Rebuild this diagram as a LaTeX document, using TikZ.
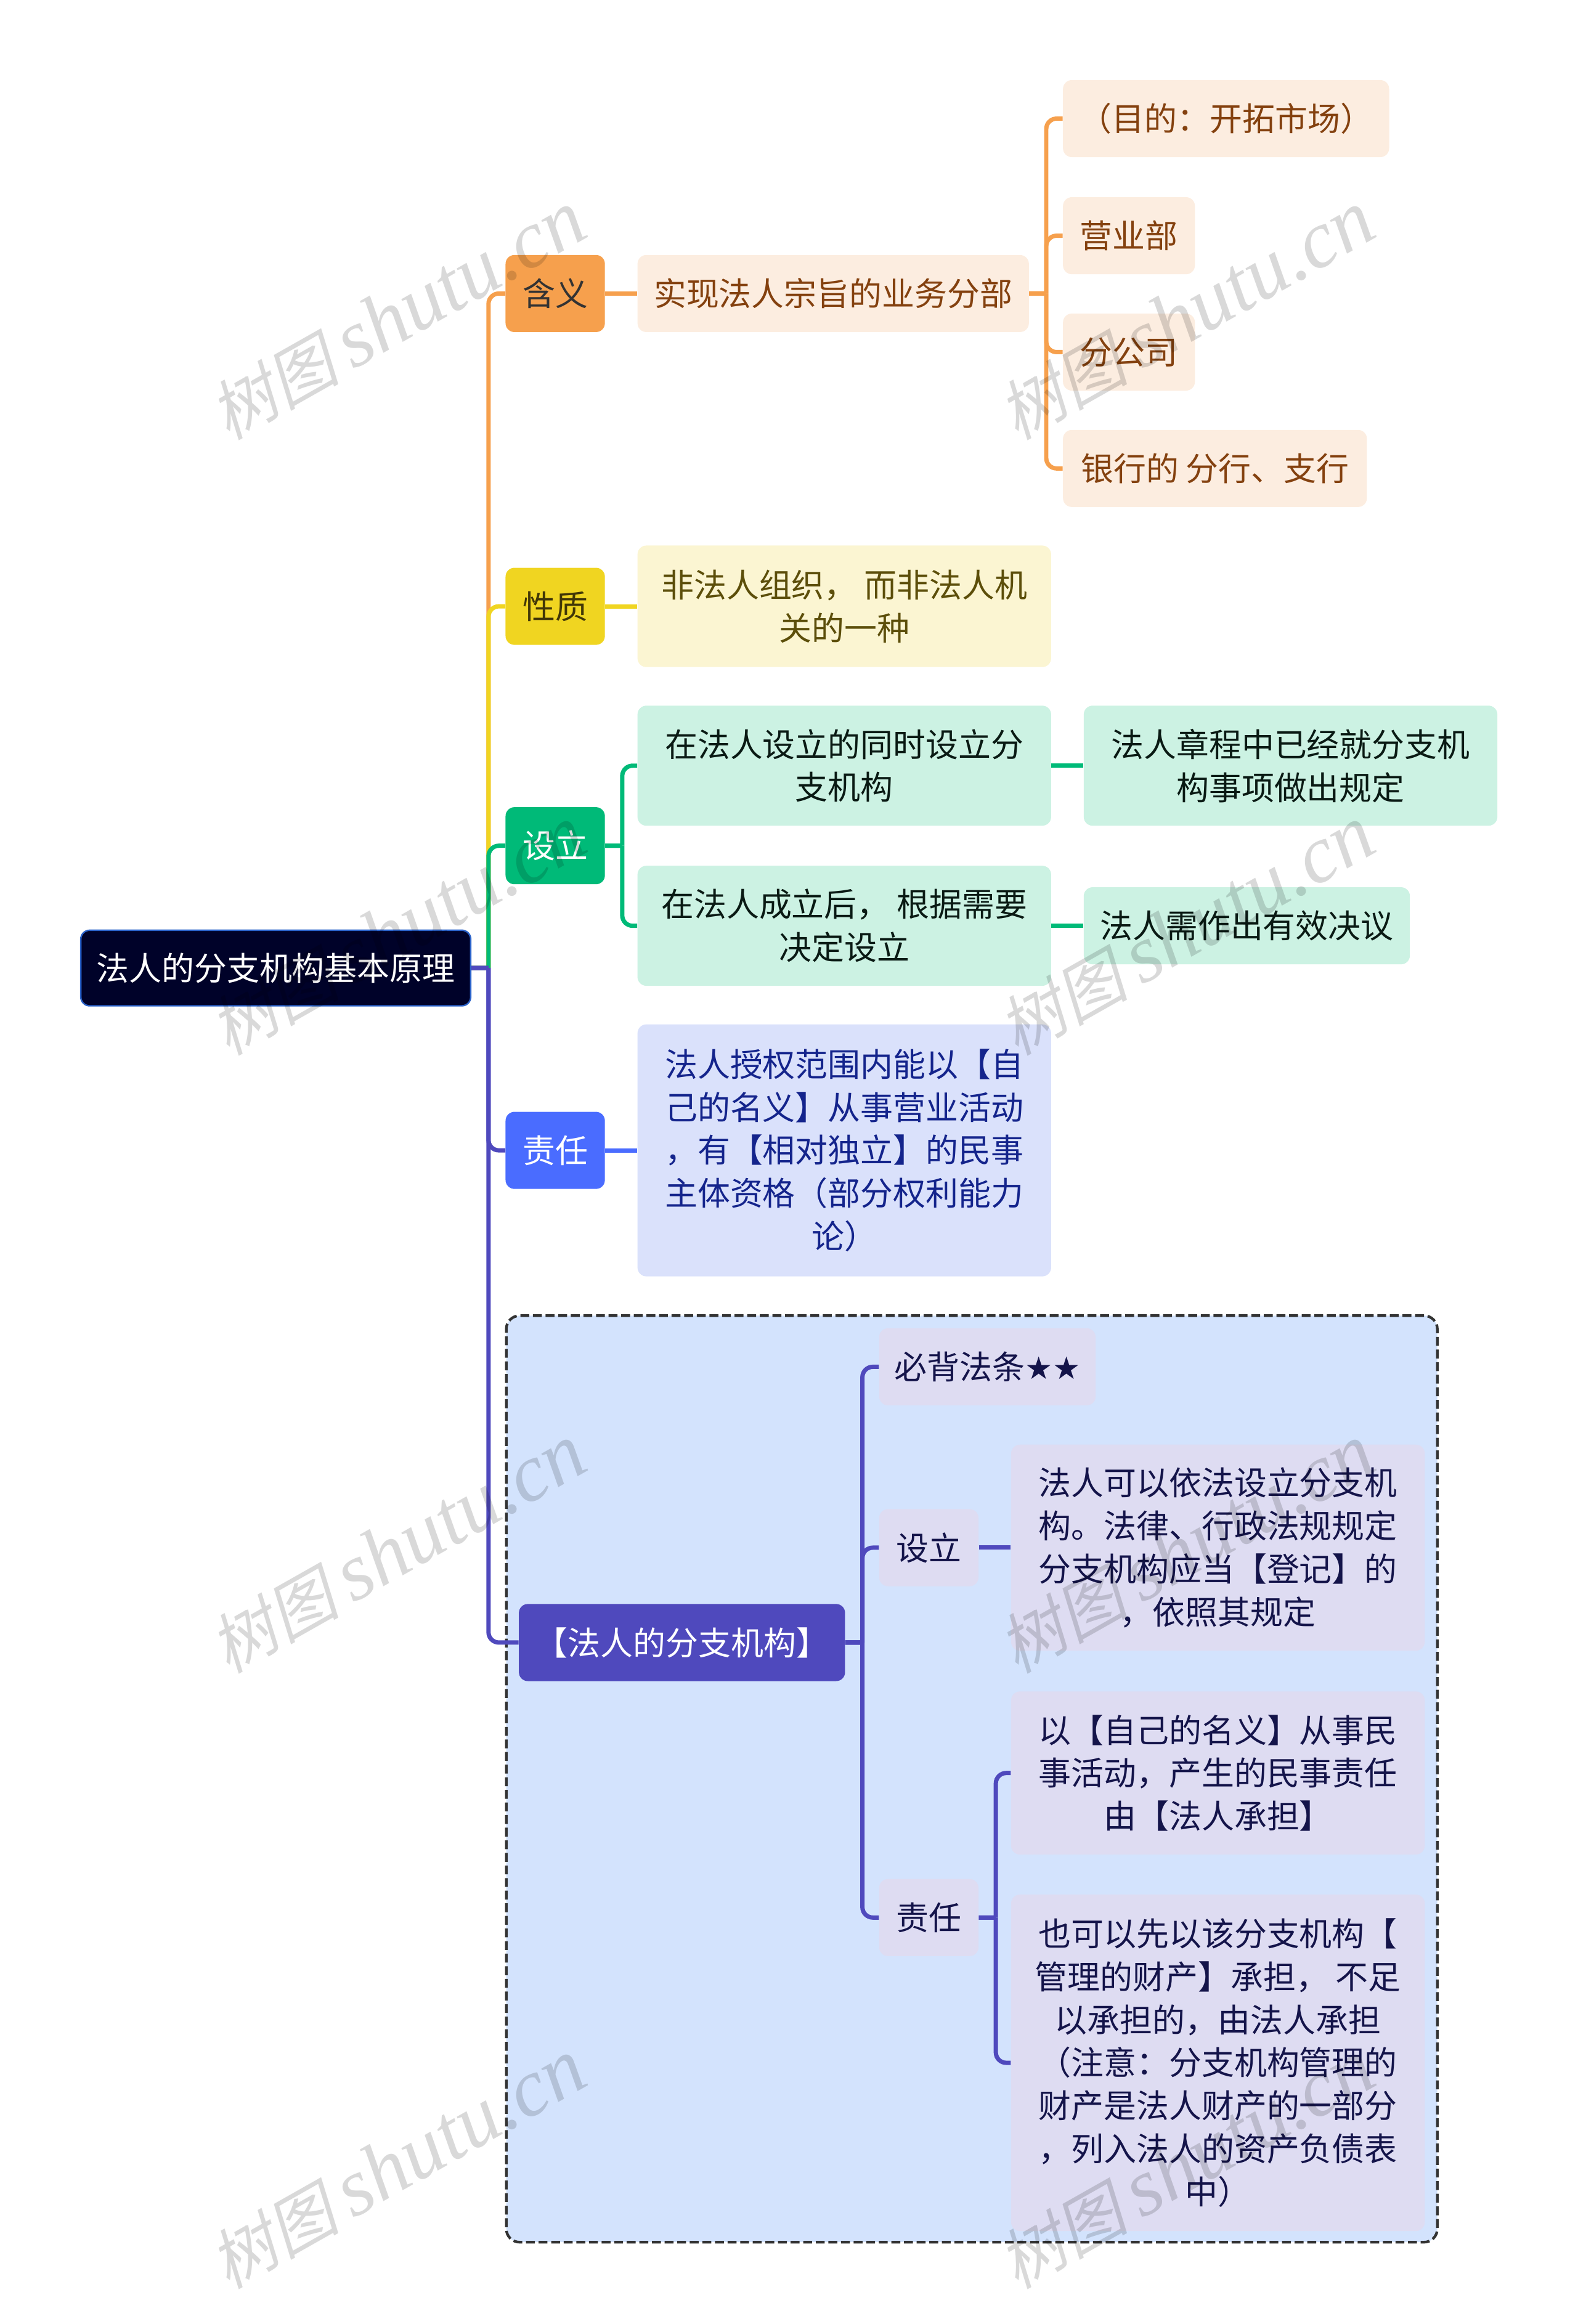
\documentclass[tikz,border=0pt]{standalone}
\usepackage{fontspec}
\usepackage{tikz}
\setmainfont{Noto Sans CJK SC}
\newfontfamily\starfont{DejaVu Sans}
\newfontfamily\wmcjk[FakeSlant=.22]{Noto Sans CJK SC}
\newfontfamily\wmlatin{Liberation Serif Italic}

\definecolor{rootfill}{HTML}{000229}
\definecolor{rootline}{HTML}{2B62C8}
\definecolor{orangeline}{HTML}{F6A04D}
\definecolor{orangesoft}{HTML}{FCEDE0}
\definecolor{orangetext}{HTML}{84410F}
\definecolor{yellowline}{HTML}{F0D521}
\definecolor{yellowsoft}{HTML}{FBF5D2}
\definecolor{yellowtext}{HTML}{5C4E0A}
\definecolor{greenline}{HTML}{00BA78}
\definecolor{greensoft}{HTML}{CCF2E3}
\definecolor{greentext}{HTML}{0A1A14}
\definecolor{blueline}{HTML}{4A6CFF}
\definecolor{bluesoft}{HTML}{DAE1FB}
\definecolor{bluetext}{HTML}{14248C}
\definecolor{indigoline}{HTML}{4F49BD}
\definecolor{indigosoft}{HTML}{DEDCF2}
\definecolor{indigotext}{HTML}{14144A}
\definecolor{framefill}{HTML}{D3E3FD}

\tikzset{
  box/.style={rectangle,rounded corners=6pt,inner sep=0pt,align=center,
    font=\fontsize{22pt}{29pt}\selectfont},
  topic/.style={box,minimum width=67pt,minimum height=52pt},
  wire/.style={line width=2.9pt},
  elbow/.style={to path={-- ++(11.5pt,0pt) [rounded corners=7pt] ++(0pt,0pt) |- (\tikztotarget)}},
  wmark/.style={rotate=29.5,text=black,text opacity=.15,inner sep=0pt}
}

\begin{document}
\begin{tikzpicture}
  [x=1pt,y=-1pt]
  \useasboundingbox (0,0) rectangle (1064,1567.7);

  \node[box,fill=framefill,draw=black!80,line width=1.8pt,dash pattern=on 6pt off 2.5pt,
    rounded corners=9pt,minimum width=628pt,minimum height=625pt] (frame) at (655.5,1200) {};

  \node[box,fill=rootfill,draw=rootline,line width=1pt,text=white,minimum width=263pt,minimum height=51pt]
    (root) at (186,653) {法人的分支机构基本原理};

  \node[topic,fill=orangeline,text=black!80] (hanyi) at (374.5,198) {含义};
  \node[box,fill=orangesoft,text=orangetext,minimum width=264pt,minimum height=52pt]
    (yewu) at (562,198) {实现法人宗旨的业务分部};
  \node[box,fill=orangesoft,text=orangetext,minimum width=220pt,minimum height=52pt]
    (mudi) at (827,80) {（目的：开拓市场）};
  \node[box,fill=orangesoft,text=orangetext,minimum width=89pt,minimum height=52pt]
    (yingye) at (761.5,159) {营业部};
  \node[box,fill=orangesoft,text=orangetext,minimum width=89pt,minimum height=52pt]
    (fengs) at (761.5,237.5) {分公司};
  \node[box,fill=orangesoft,text=orangetext,minimum width=205pt,minimum height=52pt]
    (yinhang) at (819.5,316) {银行的 分行、支行};

  \node[topic,fill=yellowline,text=yellowtext!70!black] (xingzhi) at (374.5,409) {性质};
  \node[box,fill=yellowsoft,text=yellowtext,minimum width=279pt,minimum height=82pt]
    (feifa) at (569.5,409) {非法人组织， 而非法人机\\关的一种};

  \node[topic,fill=greenline,text=white] (sheli) at (374.5,570.5) {设立};
  \node[box,fill=greensoft,text=greentext,minimum width=279pt,minimum height=81pt]
    (tongshi) at (569.5,516.5) {在法人设立的同时设立分\\支机构};
  \node[box,fill=greensoft,text=greentext,minimum width=279pt,minimum height=81pt]
    (chengli) at (569.5,624.5) {在法人成立后， 根据需要\\决定设立};
  \node[box,fill=greensoft,text=greentext,minimum width=279pt,minimum height=81pt]
    (zhangcheng) at (870.5,516.5) {法人章程中已经就分支机\\构事项做出规定};
  \node[box,fill=greensoft,text=greentext,minimum width=220pt,minimum height=52pt]
    (jueyi) at (841,624.5) {法人需作出有效决议};

  \node[topic,fill=blueline,text=white] (zeren) at (374.5,776) {责任};
  \node[box,fill=bluesoft,text=bluetext,minimum width=279pt,minimum height=170pt]
    (shouquan) at (569.5,776) {法人授权范围内能以【自\\己的名义】从事营业活动\\，有【相对独立】的民事\\主体资格（部分权利能力\\论）};

  \node[box,fill=indigoline,text=white,minimum width=220pt,minimum height=52pt]
    (fatiao) at (460,1108) {【法人的分支机构】};
  \node[box,fill=indigosoft,text=indigotext,minimum width=146pt,minimum height=52pt]
    (bibei) at (666,922) {必背法条{\starfont\fontsize{21pt}{29pt}\selectfont ★★}};
  \node[topic,fill=indigosoft,text=indigotext] (sheli2) at (626.5,1044) {设立};
  \node[topic,fill=indigosoft,text=indigotext] (zeren2) at (626.5,1293.5) {责任};
  \node[box,fill=indigosoft,text=indigotext,minimum width=279pt,minimum height=139pt]
    (yifa) at (821.5,1044) {法人可以依法设立分支机\\构。法律、行政法规规定\\分支机构应当【登记】的\\，依照其规定};
  \node[box,fill=indigosoft,text=indigotext,minimum width=279pt,minimum height=110pt]
    (ziji) at (821.5,1196) {以【自己的名义】从事民\\事活动，产生的民事责任\\由【法人承担】};
  \node[box,fill=indigosoft,text=indigotext,minimum width=279pt,minimum height=227pt]
    (xianyi) at (821.5,1391.5) {也可以先以该分支机构【\\管理的财产】承担， 不足\\以承担的，由法人承担\\（注意：分支机构管理的\\财产是法人财产的一部分\\，列入法人的资产负债表\\中）};

  \foreach \from/\to/\col in {root/hanyi/orangeline,yewu/mudi/orangeline,yewu/yingye/orangeline,
      yewu/fengs/orangeline,yewu/yinhang/orangeline,root/xingzhi/yellowline,
      sheli/tongshi/greenline,sheli/chengli/greenline,root/sheli/greenline,
      root/zeren/indigoline,root/fatiao/indigoline,fatiao/bibei/indigoline,fatiao/sheli2/indigoline,
      fatiao/zeren2/indigoline,zeren2/ziji/indigoline,zeren2/xianyi/indigoline}
    \draw[wire,\col] (\from.east) to[elbow] (\to.west);

  \foreach \from/\to/\col in {hanyi/yewu/orangeline,xingzhi/feifa/yellowline,tongshi/zhangcheng/greenline,
      chengli/jueyi/greenline,zeren/shouquan/blueline,sheli2/yifa/indigoline}
    \draw[wire,\col] (\from) -- (\to);

  \foreach \wx in {268,800}
    \foreach \wy in {213,628,1045,1460}
      \node[wmark] (wm\wx\wy) at (\wx,\wy) {{\wmcjk\fontsize{44pt}{50pt}\selectfont 树图}\hspace{9pt}{\wmlatin\fontsize{55pt}{50pt}\selectfont shutu.cn}};
\end{tikzpicture}
\end{document}
